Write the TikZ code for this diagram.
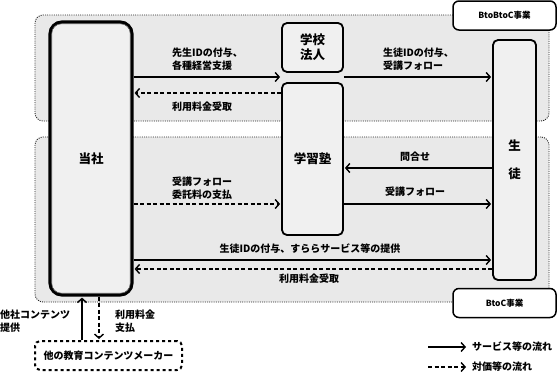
\documentclass[tikz,border=0pt]{standalone}
\usepackage{fontspec}
\setmainfont{Noto Sans CJK JP}
\usepackage{tikz}
\usetikzlibrary{arrows.meta, positioning, backgrounds}

\definecolor{regiongray}{HTML}{E9E9E9}
\definecolor{boxgray}{HTML}{F0F0F0}

\begin{document}
\begin{tikzpicture}[
    x=1pt, y=-1pt,
    every node/.style={font=\fontsize{10}{13}\selectfont\bfseries},
    region/.style={draw=black!85, dash pattern=on 1pt off 1.2pt, line width=0.9pt, rounded corners=8pt, fill=regiongray, inner sep=0pt},
    tag/.style={draw, line width=1.5pt, rounded corners=6pt, fill=white, minimum width=103pt, minimum height=29pt, inner sep=0pt, font=\fontsize{8.5}{10}\selectfont\bfseries},
    party/.style={draw, line width=1.8pt, rounded corners=5pt, fill=boxgray, inner sep=0pt, align=center, font=\fontsize{12.5}{15}\selectfont\bfseries},
    flow/.style={-{Straight Barb[length=4pt,width=9pt]}, line width=1.4pt, shorten >=1pt},
    pay/.style={flow, dash pattern=on 4pt off 2.5pt},
    lbl/.style={align=left, inner sep=0pt}
]
\useasboundingbox (0,0) rectangle (557,372);

% Business regions
\node[region, minimum width=514pt, minimum height=106pt] (btobtoc) at (292,68) {};
\node[region, minimum width=514pt, minimum height=165pt] (btoc) at (292,219.5) {};
\node[tag] (tagbbc) at (504.5,15.5) {BtoBtoC事業};
\node[tag] (tagbc) at (504.5,303) {BtoC事業};

% Parties
\node[party, line width=3.2pt, rounded corners=12pt, minimum width=82pt, minimum height=273pt] (tosha) at (91,158.5) {当社};
\draw[black!60, line width=0.6pt, rounded corners=9pt] ([shift={(3.5pt,3.5pt)}]tosha.south west) rectangle ([shift={(-3.5pt,-3.5pt)}]tosha.north east);
\node[party, minimum width=61pt, minimum height=49pt] (school) at (312.5,47.5) {学校\\法人};
\node[party, minimum width=61pt, minimum height=152pt] (juku) at (312.5,159) {学習塾};
\node[party, minimum width=43pt, minimum height=240pt] (student) at (514.5,160) {生\\[13pt]徒};
\node[draw, line width=2pt, dash pattern=on 3pt off 3pt, rounded corners=5pt, minimum width=147pt, minimum height=29pt, inner sep=0pt] (maker) at (108.5,355.5) {他の教育コンテンツメーカー};

% Rows and columns of the flows
\coordinate (r1) at (0,77);
\coordinate (r2) at (0,93);
\coordinate (r3) at (0,168);
\coordinate (r4) at (0,204);
\coordinate (r5) at (0,260);
\coordinate (r6) at (0,269);
\coordinate (colup) at (82,0);
\coordinate (coldown) at (99,0);

% Flows
\draw[flow] (tosha.east |- r1) -- (juku.west |- r1);
\draw[flow] (juku.east |- r1) -- (student.west |- r1);
\draw[pay] (juku.west |- r2) -- (tosha.east |- r2);
\draw[flow] (student.west |- r3) -- (juku.east |- r3);
\draw[flow] (juku.east |- r4) -- (student.west |- r4);
\draw[pay] (tosha.east |- r4) -- (juku.west |- r4);
\draw[flow] (tosha.east |- r5) -- (student.west |- r5);
\draw[pay] (student.west |- r6) -- (tosha.east |- r6);
\draw[flow] (maker.north -| colup) -- (tosha.south -| colup);
\draw[pay] (tosha.south -| coldown) -- (maker.north -| coldown);

% Flow labels
\node[lbl, anchor=west] (lbteacher) at (172,59.5) {先生IDの付与、\\各種経営支援};
\node[lbl, anchor=west] (lbfee1) at (172,107) {利用料金受取};
\node[lbl, anchor=west] (lbstudentid) at (383,59.5) {生徒IDの付与、\\受講フォロー};
\node[lbl] (lbask) at (415,157) {問合せ};
\node[lbl] (lbfollow) at (415,192) {受講フォロー};
\node[lbl, anchor=west] (lbcommission) at (172,188) {受講フォロー\\委託料の支払};
\node[lbl] (lbservice) at (310,249) {生徒IDの付与、すららサービス等の提供};
\node[lbl] (lbfee2) at (309,279) {利用料金受取};
\node[lbl, anchor=west] (lbcontent) at (0,321) {他社コンテンツ\\提供};
\node[lbl, anchor=west] (lbpaid) at (115,321) {利用料金\\支払};

% Legend
\node[lbl, anchor=west] (legservice) at (472,347) {サービス等の流れ};
\node[lbl, anchor=west] (legpay) at (472,367) {対価等の流れ};
\coordinate (legs1) at (428,347);
\coordinate (legs2) at (428,367);
\draw[flow, shorten >=6pt] (legs1) -- (legservice.west);
\draw[pay, shorten >=6pt] (legs2) -- (legpay.west);

\end{tikzpicture}
\end{document}
